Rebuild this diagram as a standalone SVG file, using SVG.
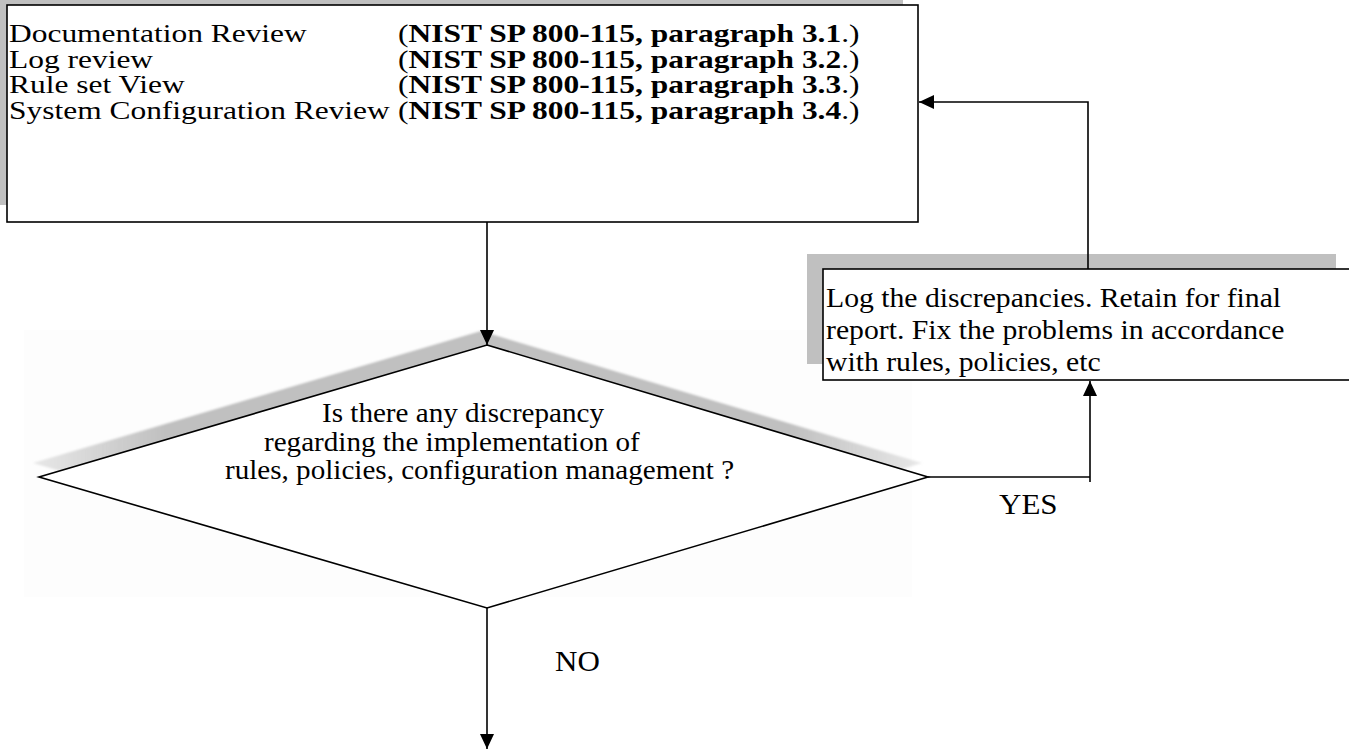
<svg xmlns="http://www.w3.org/2000/svg" width="1349" height="749" viewBox="0 0 1349 749">
  <style>
    .box { fill: #ffffff; stroke: #000000; stroke-width: 1.6; }
    .shade { fill: #c0c0c0; stroke: none; }
    .wire { fill: none; stroke: #000000; stroke-width: 1.6; }
    .t { font-family: "Liberation Serif", "Times New Roman", serif; fill: #000000; }
    .b { font-weight: bold; }
  </style>
  <defs>
    <marker id="arrow" markerUnits="userSpaceOnUse" markerWidth="16" markerHeight="16" refX="15" refY="7" orient="auto">
      <path d="M0,0 L15,7 L0,14 Z" fill="#000000"/>
    </marker>
    <linearGradient id="diamondShade" x1="0" y1="0" x2="1" y2="0">
      <stop offset="0" stop-color="#c0c0c0" stop-opacity="0.35"/>
      <stop offset="0.15" stop-color="#c0c0c0" stop-opacity="1"/>
      <stop offset="0.85" stop-color="#c0c0c0" stop-opacity="1"/>
      <stop offset="1" stop-color="#c0c0c0" stop-opacity="0.35"/>
    </linearGradient>
    <filter id="soft" x="-5%" y="-5%" width="110%" height="110%">
      <feGaussianBlur stdDeviation="1.2"/>
    </filter>
  </defs>

  <rect width="1349" height="749" fill="#ffffff"/>

  <!-- review steps box -->
  <g id="review-box">
    <rect class="shade" x="0" y="0" width="903" height="205"/>
    <rect class="box" x="7" y="5" width="911" height="217"/>
    <g class="t" font-size="26">
      <text transform="translate(9,42) scale(1.21,1)">Documentation Review</text>
      <text transform="translate(9,67.5) scale(1.21,1)">Log review</text>
      <text transform="translate(9,93) scale(1.21,1)">Rule set View</text>
      <text transform="translate(9,118.5) scale(1.21,1)">System Configuration Review</text>
      <text transform="translate(398,42) scale(1.21,1)">(<tspan class="b">NIST SP 800-115, paragraph 3.1</tspan>.)</text>
      <text transform="translate(398,67.5) scale(1.21,1)">(<tspan class="b">NIST SP 800-115, paragraph 3.2</tspan>.)</text>
      <text transform="translate(398,93) scale(1.21,1)">(<tspan class="b">NIST SP 800-115, paragraph 3.3</tspan>.)</text>
      <text transform="translate(398,118.5) scale(1.21,1)">(<tspan class="b">NIST SP 800-115, paragraph 3.4</tspan>.)</text>
    </g>
  </g>

  <!-- discrepancy decision -->
  <g id="decision">
    <rect x="24" y="330" width="888" height="267" fill="#fdfdfd"/>
    <polygon points="481,331 922,463 481,594 33,463" fill="url(#diamondShade)" filter="url(#soft)"/>
    <polygon points="487,345 928,477 487,608 39,477" fill="#ffffff" stroke="#000000" stroke-width="1.6"/>
    <g class="t" font-size="28">
      <text transform="translate(322,422) scale(1.04,1)">Is there any discrepancy</text>
      <text transform="translate(264,451) scale(1.04,1)">regarding the implementation of</text>
      <text transform="translate(225,479) scale(1.04,1)">rules, policies, configuration management ?</text>
    </g>
  </g>

  <!-- corrective action box -->
  <g id="log-box">
    <rect class="shade" x="807" y="254" width="529" height="110"/>
    <rect class="box" x="823" y="269" width="540" height="111"/>
    <g class="t" font-size="27">
      <text transform="translate(826,307) scale(1.1,1)">Log the discrepancies. Retain for final</text>
      <text transform="translate(826,339) scale(1.1,1)">report. Fix the problems in accordance</text>
      <text transform="translate(826,371) scale(1.1,1)">with rules, policies, etc</text>
    </g>
  </g>

  <!-- connectors -->
  <g id="connectors">
    <line class="wire" x1="487" y1="222" x2="487" y2="345" marker-end="url(#arrow)"/>
    <polyline class="wire" points="928,477 1090,477"/>
    <line class="wire" x1="1090" y1="482" x2="1090" y2="381" marker-end="url(#arrow)"/>
    <polyline class="wire" points="1088,269 1088,102 919,102" marker-end="url(#arrow)"/>
    <line class="wire" x1="487" y1="608" x2="487" y2="749" marker-end="url(#arrow)"/>
  </g>

  <!-- branch labels -->
  <g id="labels" class="t" font-size="29">
    <text transform="translate(999,514) scale(1.07,1)">YES</text>
    <text transform="translate(555,671) scale(1.07,1)">NO</text>
  </g>
</svg>
